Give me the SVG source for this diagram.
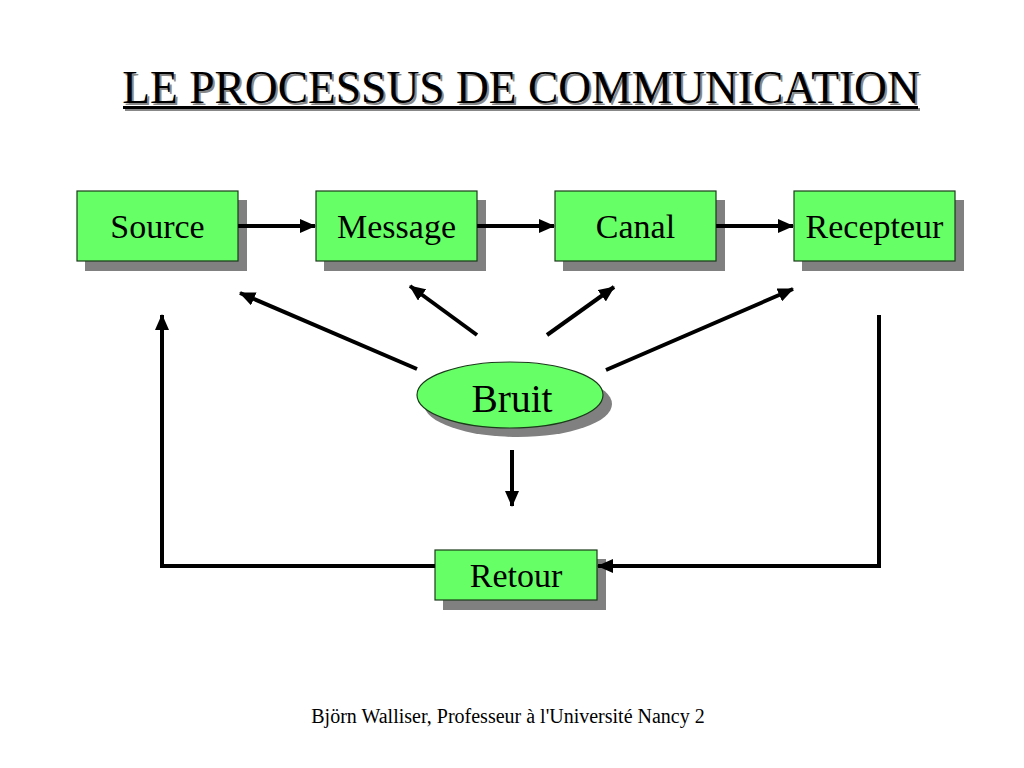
<svg xmlns="http://www.w3.org/2000/svg" width="1024" height="768" viewBox="0 0 1024 768">
<style>
.box{fill:#66ff66;stroke:#1a3a1a;stroke-width:1.2}
.shadow{fill:#808080}
.lbl{font-family:"Liberation Serif","Times New Roman",serif;font-size:34px;fill:#000;text-anchor:middle}
.conn{stroke:#000;stroke-width:4;fill:none}
</style>
<defs>
<marker id="ah" markerUnits="userSpaceOnUse" markerWidth="16" markerHeight="14" refX="15" refY="7" orient="auto">
<path d="M0,0 L16,7 L0,14 Z" fill="#000"/>
</marker>
</defs>
<rect width="1024" height="768" fill="#fff"/>
<g id="title" font-family="'Liberation Serif','Times New Roman',serif" font-size="45.5" text-anchor="middle">
<text x="523" y="105" fill="#888">LE PROCESSUS DE COMMUNICATION</text>
<rect x="125" y="108" width="795" height="3" fill="#888"/>
<text x="521" y="103" fill="#000">LE PROCESSUS DE COMMUNICATION</text>
<rect x="123" y="106" width="795" height="3" fill="#000"/>
</g>
<g id="source">
<rect class="shadow" x="85" y="200" width="162" height="71"/>
<rect class="box" x="77" y="191" width="161" height="70"/>
<text class="lbl" x="157.5" y="238">Source</text>
</g>
<g id="message">
<rect class="shadow" x="324" y="200" width="162" height="71"/>
<rect class="box" x="316" y="191" width="161" height="70"/>
<text class="lbl" x="396.5" y="238">Message</text>
</g>
<g id="canal">
<rect class="shadow" x="563" y="200" width="162" height="71"/>
<rect class="box" x="555" y="191" width="161" height="70"/>
<text class="lbl" x="635.5" y="238">Canal</text>
</g>
<g id="recepteur">
<rect class="shadow" x="802" y="200" width="162" height="71"/>
<rect class="box" x="794" y="191" width="161" height="70"/>
<text class="lbl" x="874.5" y="238">Recepteur</text>
</g>
<g id="bruit">
<ellipse cx="518" cy="404" rx="94" ry="33" fill="#808080"/>
<ellipse cx="510" cy="395" rx="93" ry="33" fill="#66ff66" stroke="#1a3a1a" stroke-width="1.2"/>
<text x="512" y="412" font-family="'Liberation Serif','Times New Roman',serif" font-size="39.5" text-anchor="middle">Bruit</text>
</g>
<g id="retour">
<rect class="shadow" x="443" y="559" width="163" height="51"/>
<rect class="box" x="435" y="550" width="162" height="50"/>
<text class="lbl" x="516" y="587">Retour</text>
</g>
<g id="connectors">
<line class="conn" x1="238" y1="226" x2="315" y2="226" marker-end="url(#ah)"/>
<line class="conn" x1="477" y1="226" x2="554" y2="226" marker-end="url(#ah)"/>
<line class="conn" x1="716" y1="226" x2="793" y2="226" marker-end="url(#ah)"/>
<line class="conn" x1="417" y1="369" x2="240" y2="293" marker-end="url(#ah)"/>
<line class="conn" x1="477" y1="335" x2="410" y2="286" marker-end="url(#ah)"/>
<line class="conn" x1="547" y1="335" x2="614" y2="287" marker-end="url(#ah)"/>
<line class="conn" x1="606" y1="370" x2="793" y2="289" marker-end="url(#ah)"/>
<line class="conn" x1="512" y1="450" x2="512" y2="506" marker-end="url(#ah)"/>
<polyline class="conn" points="435,566 162,566 162,315" marker-end="url(#ah)"/>
<polyline class="conn" points="879,315 879,566 598,566" marker-end="url(#ah)"/>
</g>
<text id="footer" x="508" y="723" font-family="'Liberation Serif','Times New Roman',serif" font-size="20" text-anchor="middle">Björn Walliser, Professeur à l'Université Nancy 2</text>
</svg>
